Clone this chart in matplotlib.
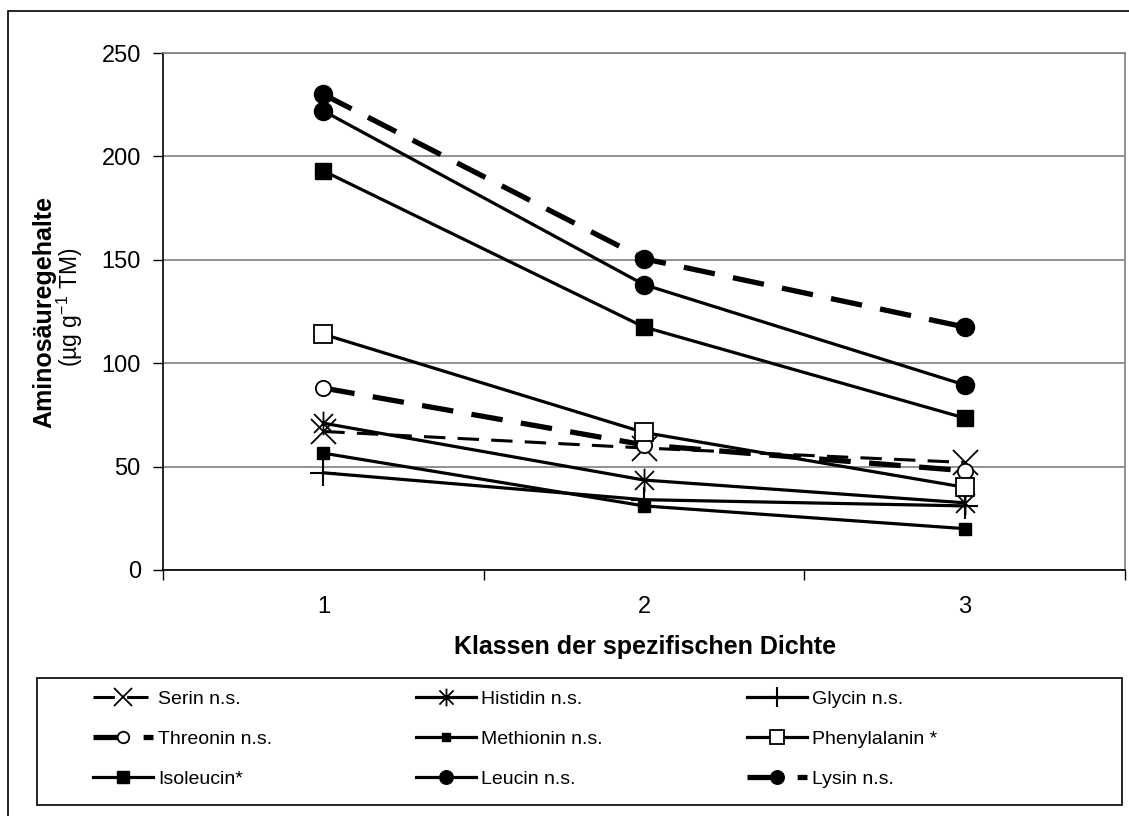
import matplotlib.pyplot as plt
from matplotlib.path import Path
from matplotlib.patches import Rectangle
import numpy as np

plt.rcParams['font.family'] = ['Liberation Sans', 'DejaVu Sans']
plt.rcParams['mathtext.fontset'] = 'custom'
plt.rcParams['mathtext.rm'] = 'Liberation Sans'

klassen = [1, 2, 3]
serin = [67, 59, 52]
histidin = [71, 43.5, 32.5]
glycin = [47, 34, 31]
threonin = [88, 60.5, 48]
methionin = [56.5, 31, 20]
phenylalanin = [114, 66.5, 40]
isoleucin = [193, 117.5, 73.5]
leucin = [222, 138, 89.5]
lysin = [230, 150.5, 117.5]

# excel-style asterisk: an x with a vertical bar through it
star = Path([(-1, -1), (1, 1), (-1, 1), (1, -1), (0, -1.25), (0, 1.25)],
            [Path.MOVETO, Path.LINETO] * 3)

fig = plt.figure(figsize=(11.29, 8.16), dpi=100)
ax = fig.add_axes([163 / 1129, 1 - 570 / 816, 962 / 1129, 517 / 816])

x = np.array(klassen)
h = {}
h['Serin n.s.'], = ax.plot(x, serin, color='k', lw=2.2, dashes=(7, 4), marker='x', ms=18, mew=1.3)
h['Histidin n.s.'], = ax.plot(x, histidin, color='k', lw=2.3, marker=star, ms=17, mew=1.3)
h['Glycin n.s.'], = ax.plot(x, glycin, color='k', lw=2.3, marker='+', ms=19, mew=1.5)
h['Threonin n.s.'], = ax.plot(x, threonin, color='k', lw=3.8, dashes=(6, 3.5), marker='o', ms=11,
                              mfc='white', mew=1.3)
h['Methionin n.s.'], = ax.plot(x, methionin, color='k', lw=2.3, marker='s', ms=8)
h['Phenylalanin *'], = ax.plot(x, phenylalanin, color='k', lw=2.3, marker='s', ms=13,
                               mfc='white', mew=1.3)
h['Isoleucin*'], = ax.plot(x, isoleucin, color='k', lw=2.3, marker='s', ms=11)
h['Leucin n.s.'], = ax.plot(x, leucin, color='k', lw=2.3, marker='o', ms=13)
h['Lysin n.s.'], = ax.plot(x, lysin, color='k', lw=3.8, dashes=(6, 3.5), marker='o', ms=13)

ax.set_xlim(0.5, 3.5)
ax.set_ylim(0, 250)
ax.set_yticks(np.arange(0, 251, 50))
ax.set_xticks(klassen)
ax.set_xticks([0.5, 1.5, 2.5, 3.5], minor=True)
ax.tick_params(axis='x', which='major', length=0, pad=19, labelsize=17)
ax.tick_params(axis='x', which='minor', length=7, width=1, direction='out')
ax.tick_params(axis='y', length=7, width=1, direction='out', pad=9, labelsize=17)
ax.yaxis.grid(True, color='#808080', lw=1.2)
ax.set_axisbelow(True)
for s in ['top', 'right']:
    ax.spines[s].set_color('#808080')
    ax.spines[s].set_linewidth(1.2)
for s in ['left', 'bottom']:
    ax.spines[s].set_linewidth(1.2)

fig.text(645 / 1129, 1 - 647 / 816, 'Klassen der spezifischen Dichte', fontsize=18,
         fontweight='bold', ha='center', va='center')
fig.text(44 / 1129, 1 - 312 / 816, 'Aminosäuregehalte', fontsize=18, fontweight='bold',
         rotation=90, ha='center', va='center')
fig.text(70 / 1129, 1 - 307 / 816, r'(µg g$^{-1}$ TM)', fontsize=16.5,
         rotation=90, ha='center', va='center')

# legend is filled column by column
order = ['Serin n.s.', 'Threonin n.s.', 'Isoleucin*',
         'Histidin n.s.', 'Methionin n.s.', 'Leucin n.s.',
         'Glycin n.s.', 'Phenylalanin *', 'Lysin n.s.']
leg = fig.legend([h[k] for k in order], order, ncol=3,
                 bbox_to_anchor=(93 / 1129, 1 - 690 / 816), loc='upper left',
                 fontsize=14, handlelength=3.1, handletextpad=0.25,
                 labelspacing=1.15, columnspacing=7.4, borderpad=0, borderaxespad=0,
                 frameon=False, markerscale=0.75)

fig.patches.append(Rectangle((37 / 1129, 1 - 805 / 816), 1085 / 1129, 127 / 816,
                             transform=fig.transFigure, fill=False, ec='k', lw=1.2))
fig.patches.append(Rectangle((8 / 1129, -0.05), 1.1, 1 - 11 / 816 + 0.05,
                             transform=fig.transFigure, fill=False, ec='k', lw=1.2))

fig.savefig('out.png', dpi=100)
